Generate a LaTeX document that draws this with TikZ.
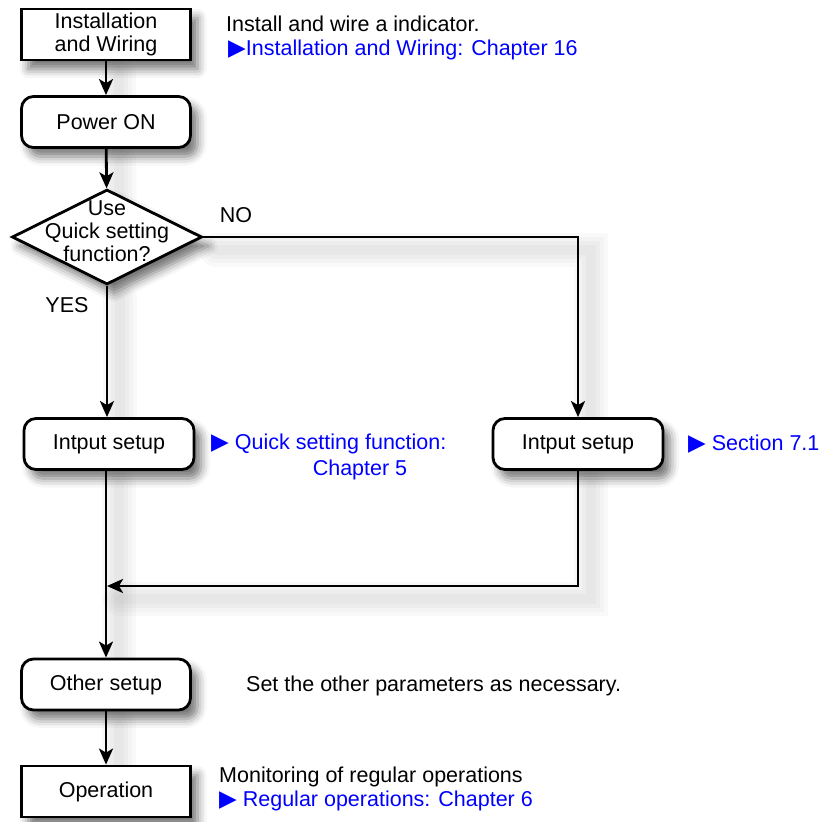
\documentclass[tikz,border=0pt]{standalone}
\usepackage{fontspec}
\setmainfont{Liberation Sans}
\newfontfamily\symfont{DejaVu Sans}
\usepackage{xcolor}
\usepackage{tikz}
\usetikzlibrary{arrows.meta}
\usetikzlibrary{positioning}
\usetikzlibrary{shapes.geometric}
\usetikzlibrary{shadows.blur}
\usetikzlibrary{backgrounds}
\definecolor{linkblue}{RGB}{0,0,255}
\newcommand{\tri}{{\symfont\fontsize{23}{23}\selectfont\char"25B6}}
\tikzset{
  shad/.style={blur shadow={shadow xshift=7pt,shadow yshift=-9pt,shadow blur radius=9pt,shadow opacity=55}},
  sl/.style={preaction={draw=black,arrows=-,line cap=round,opacity=0.022,line width=#1,transform canvas={shift={(13pt,-13pt)}}}},
  lshad/.style={sl=34pt,sl=26pt,sl=18pt,sl=10pt},
  stepbox/.style={draw,line width=2.8pt,fill=white,minimum width=169pt,minimum height=51pt,align=center,inner sep=0pt,shad},
  roundbox/.style={stepbox,rounded corners=12pt},
  decision/.style={diamond,draw,line width=2.8pt,fill=white,minimum width=190pt,minimum height=95pt,inner sep=0pt,shad},
  flow/.style={lshad,line width=2.8pt,-{Stealth[length=16pt,width=14pt,inset=4pt]}},
  note/.style={anchor=west,inner sep=0pt},
  link/.style={note,text=linkblue}
}
\begin{document}
\begin{tikzpicture}[x=1pt,y=-1pt,font=\fontsize{21.5}{23}\selectfont]
 	\useasboundingbox (0,0) rectangle (825,822);
 	% boxes
 	\node[stepbox] (inst) at (106,34.5) {Installation\\and Wiring};
 	\node[roundbox] (power) at (106,122) {Power ON};
 	\node[decision] (dec) at (107,237) {};
 	\node[align=center,inner sep=0pt] (decl) at (107,231) {Use\\Quick setting\\function?};
 	\node[roundbox,minimum width=170pt] (inL) at (109,444) {Intput setup};
 	\node[roundbox,minimum width=170pt] (inR) at (578,444) {Intput setup};
 	\node[roundbox] (other) at (106,684.5) {Other setup};
 	\node[stepbox] (oper) at (106,791.5) {Operation};
 	\coordinate (merge) at (107,586);
 	% connectors
 	\begin{scope}[on background layer]
 	\draw[flow] (inst) -- (power);
 	\draw[flow] (power) -- (dec);
 	\draw[flow] (dec.south) -- (dec.south |- inL.north);
 	\draw[flow] (dec.east) -| (inR.north);
 	\draw[flow] (inL.south -| other) -- (other);
 	\draw[flow] (inR.south) |- (merge);
 	\draw[flow] (other) -- (oper);
 	\end{scope}
 	% labels
 	\node at (236,215) (no) {NO};
 	\node at (67,305) (yes) {YES};
 	\node[note] (t1) at (226,24) {Install and wire a indicator.};
 	\node[link] (t2) at (228,50) {\tri Installation and Wiring: Chapter 16};
 	\node[link] (t3) at (211,444) {\tri\ Quick setting function:};
 	\node[text=linkblue] (t4) at (360,470) {Chapter 5};
 	\node[link] (t5) at (688,444) {\tri\ Section 7.1};
 	\node[note] (t6) at (246,686) {Set the other parameters as necessary.};
 	\node[note] (t7) at (219,777) {Monitoring of regular operations};
 	\node[link] (t8) at (219,801) {\tri\ Regular operations: Chapter 6};
 \end{tikzpicture}
\end{document}
